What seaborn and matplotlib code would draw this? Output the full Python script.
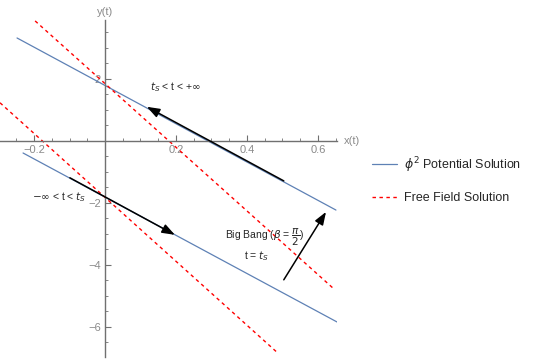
import numpy as np
import pandas as pd
import seaborn as sns
import matplotlib.pyplot as plt
from matplotlib.ticker import MultipleLocator

# curve endpoints (straight segments)
blue_up_x = [-0.248, 0.651]
blue_up_y = [3.32, -2.23]
blue_lo_x = [-0.231, 0.654]
blue_lo_y = [-0.39, -5.84]
red_up_x = [-0.197, 0.642]
red_up_y = [3.87, -4.74]
red_lo_x = [-0.296, 0.487]
red_lo_y = [1.23, -6.84]

# arrows: (tail, head)
arrow_up = [(0.504, -1.29), (0.118, 1.10)]
arrow_lo = [(-0.099, -1.19), (0.197, -3.03)]
arrow_bb = [(0.504, -4.48), (0.623, -2.29)]

x_ticks = [-0.2, 0.2, 0.4, 0.6]
y_ticks = [-6, -4, -2, 2]

sns.set_style('white')
plt.rcParams['font.family'] = ['Liberation Sans', 'DejaVu Sans']
plt.rcParams['mathtext.fontset'] = 'dejavusans'

fig = plt.figure(figsize=(5.35, 3.59), dpi=100)
ax = fig.add_axes([0, 2 / 359, 337 / 535, 337 / 359])

blue = '#5e81b5'
sns.lineplot(x=blue_up_x, y=blue_up_y, color=blue, lw=0.9, sort=False, ax=ax,
             label=r'$\phi^2$ Potential Solution')
sns.lineplot(x=blue_lo_x, y=blue_lo_y, color=blue, lw=0.9, sort=False, ax=ax)
sns.lineplot(x=red_up_x, y=red_up_y, color='red', lw=1.0, sort=False, ax=ax,
             linestyle=(0, (2.5, 2.5)), label='Free Field Solution')
sns.lineplot(x=red_lo_x, y=red_lo_y, color='red', lw=1.0, sort=False, ax=ax,
             linestyle=(0, (2.5, 2.5)))

for tail, head in [arrow_up, arrow_lo, arrow_bb]:
    ax.annotate('', xy=head, xytext=tail,
                arrowprops=dict(arrowstyle='-|>,head_length=0.55,head_width=0.2',
                                color='black', lw=1.1,
                                mutation_scale=14, shrinkA=0, shrinkB=0))

ax.set_xlim(-0.296, 0.654)
ax.set_ylim(-6.97, 3.90)

# mathematica style axes through the origin
for s in ['top', 'right']:
    ax.spines[s].set_visible(False)
for s in ['left', 'bottom']:
    ax.spines[s].set_position(('data', 0))
    ax.spines[s].set_color('#707070')
    ax.spines[s].set_linewidth(1.0)

ax.set_xticks(x_ticks)
ax.set_xticklabels(['\u22120.2', '0.2', '0.4', '0.6'])
ax.set_yticks(y_ticks)
ax.set_yticklabels(['\u22126', '\u22124', '\u22122', '2'])
ax.xaxis.set_minor_locator(MultipleLocator(0.05))
ax.yaxis.set_minor_locator(MultipleLocator(0.5))
ax.tick_params(which='both', direction='in', color='#707070', labelcolor='#8a8a8a',
               labelsize=8, bottom=True, left=True)
ax.tick_params(which='major', length=4, width=0.8, pad=3)
ax.tick_params(which='minor', length=2.5, width=0.6)

ax.text(0, 1.01, 'y(t)', transform=ax.get_xaxis_transform(), ha='center', va='bottom',
        fontsize=8, color='#8a8a8a')
ax.text(1.02, 0, 'x(t)', transform=ax.get_yaxis_transform(), ha='left', va='center',
        fontsize=8, color='#8a8a8a')

ax.text(0.127, 1.74, r'$t_S$ < t < +$\infty$', fontsize=7.5, ha='left', va='center')
ax.text(-0.206, -1.81, r'$-\infty$ < t < $t_S$', fontsize=7.5, ha='left', va='center')
ax.text(0.45, -3.12, r'Big Bang ($\beta$ = $\dfrac{\pi}{2}$)', fontsize=7.5, ha='center', va='center')
ax.text(0.428, -3.72, r't = $t_S$', fontsize=7.5, ha='center', va='center')

leg = ax.legend(loc='center left', bbox_to_anchor=(372 / 337, (357 - 179.5) / 337),
                frameon=False, fontsize=9, handlelength=2.0, handletextpad=0.6,
                labelspacing=1.4, borderaxespad=0, borderpad=0)

fig.savefig('out.png', dpi=100)
